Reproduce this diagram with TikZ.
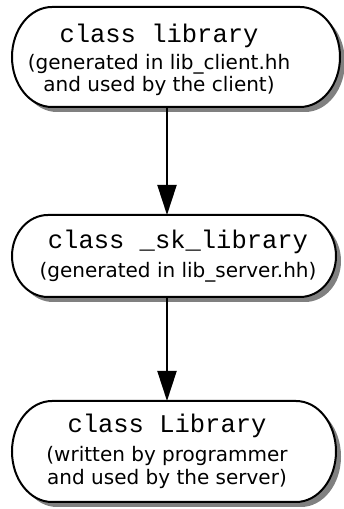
\documentclass[tikz,border=0pt]{standalone}
\usepackage{fontspec}
\setmainfont{DejaVu Sans}
\newfontfamily\monofont{Liberation Mono}
\usetikzlibrary{arrows.meta}
\tikzset{
  boxarea/.style={inner sep=0pt, outer sep=0pt},
  pillline/.style={draw=black, line width=2pt, fill=white},
  pillshadow/.style={fill=black!50, transform canvas={shift={(5pt,-5pt)}}},
  monotext/.style={anchor=base, inner sep=0pt, font=\monofont\fontsize{25.5}{27}\selectfont},
  sanstext/.style={anchor=base, inner sep=0pt, font=\fontsize{20}{22}\selectfont},
  arr/.style={line width=2pt, -{Triangle[length=30pt,width=19pt]}}
}
\newcommand\drawpill[3]{%
  \fill[pillshadow] ([xshift=#2]#1.north west) -- ([xshift=-#2]#1.north east)
    arc[start angle=90,end angle=-90,x radius=#2,y radius=#3] -- ([xshift=#2]#1.south west)
    arc[start angle=270,end angle=90,x radius=#2,y radius=#3] -- cycle;
  \path[pillline] ([xshift=#2]#1.north west) -- ([xshift=-#2]#1.north east)
    arc[start angle=90,end angle=-90,x radius=#2,y radius=#3] -- ([xshift=#2]#1.south west)
    arc[start angle=270,end angle=90,x radius=#2,y radius=#3] -- cycle;
}
\begin{document}
\begin{tikzpicture}[x=1pt,y=1pt]
\useasboundingbox (0,0) rectangle (344,509);
% box areas
\node[boxarea, minimum width=328pt, minimum height=100pt] (b1) at (176,452) {};
\node[boxarea, minimum width=324pt, minimum height=82pt] (b2) at (174,253) {};
\node[boxarea, minimum width=324pt, minimum height=101pt] (b3) at (174,57.5) {};
\drawpill{b1}{40pt}{50pt}
\drawpill{b2}{36pt}{41pt}
\drawpill{b3}{40pt}{50.5pt}
% texts box 1
\node[monotext] (t1a) at (159,466.5) {class library};
\node[sanstext] (t1b) at (159,439) {(generated in lib\_client.hh};
\node[sanstext] (t1c) at (159,417) {and used by the client)};
% texts box 2
\node[monotext] (t2a) at (178,260) {class \_sk\_library};
\node[sanstext] (t2b) at (178,231) {(generated in lib\_server.hh)};
% texts box 3
\node[monotext] (t3a) at (167,76.5) {class Library};
\node[sanstext] (t3b) at (167,47) {(written by programmer};
\node[sanstext] (t3c) at (167,24.5) {and used by the server)};
% arrows
\coordinate (a1s) at (167,402);
\coordinate (a1e) at (167,295);
\coordinate (a2s) at (167,212);
\coordinate (a2e) at (167,109);
\draw[arr] (b1.south -| a1s) -- (b2.north -| a1e);
\draw[arr] (b2.south -| a2s) -- (b3.north -| a2e);
\end{tikzpicture}
\end{document}
